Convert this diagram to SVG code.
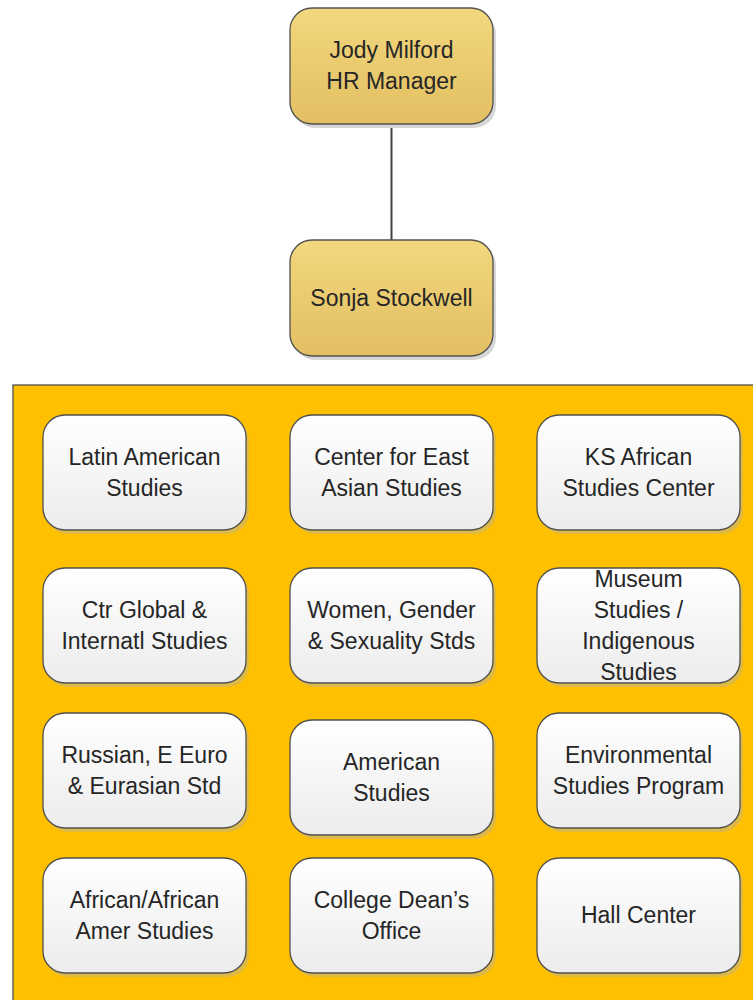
<svg xmlns="http://www.w3.org/2000/svg" width="753" height="1000" viewBox="0 0 753 1000">
<defs>
<linearGradient id="gold" x1="0" y1="0" x2="0" y2="1">
<stop offset="0" stop-color="#F3D77E"/>
<stop offset="1" stop-color="#E2BF62"/>
</linearGradient>
<linearGradient id="white" x1="0" y1="0" x2="0" y2="1">
<stop offset="0" stop-color="#FFFFFF"/>
<stop offset="1" stop-color="#ECECEC"/>
</linearGradient>
</defs>
<style>
.box{stroke:#505050;stroke-width:1.3}
.g{fill:url(#gold)}
.w{fill:url(#white)}
.sh1{fill:#D6D6D6}
.sh2{fill:#DDB948}
text{font-family:"Liberation Sans",Arial,sans-serif;font-size:23px;fill:#262626;text-anchor:middle}
.conn{stroke:#404040;stroke-width:2;fill:none}
</style>
<rect x="13" y="385" width="760" height="640" fill="#FFC000" stroke="#505050" stroke-width="1.3"/>
<g id="connectors">
<line class="conn" x1="391.5" y1="124" x2="391.5" y2="240"/>
</g>
<g id="n-jody">
<rect class="sh1" x="293" y="12" width="203" height="116" rx="22"/>
<rect class="box g" x="290" y="8" width="203" height="116" rx="22"/>
<text x="391.5" y="58">Jody Milford</text>
<text x="391.5" y="89">HR Manager</text>
</g>
<g id="n-sonja">
<rect class="sh1" x="293" y="244" width="203" height="116" rx="22"/>
<rect class="box g" x="290" y="240" width="203" height="116" rx="22"/>
<text x="391.5" y="306">Sonja Stockwell</text>
</g>
<g id="n-latin">
<rect class="sh2" x="46" y="419" width="203" height="115" rx="22"/>
<rect class="box w" x="43" y="415" width="203" height="115" rx="22"/>
<text x="144.5" y="465">Latin American</text>
<text x="144.5" y="496">Studies</text>
</g>
<g id="n-eastasian">
<rect class="sh2" x="293" y="419" width="203" height="115" rx="22"/>
<rect class="box w" x="290" y="415" width="203" height="115" rx="22"/>
<text x="391.5" y="465">Center for East</text>
<text x="391.5" y="496">Asian Studies</text>
</g>
<g id="n-ksafrican">
<rect class="sh2" x="540" y="419" width="203" height="115" rx="22"/>
<rect class="box w" x="537" y="415" width="203" height="115" rx="22"/>
<text x="638.5" y="465">KS African</text>
<text x="638.5" y="496">Studies Center</text>
</g>
<g id="n-ctrglobal">
<rect class="sh2" x="46" y="572" width="203" height="115" rx="22"/>
<rect class="box w" x="43" y="568" width="203" height="115" rx="22"/>
<text x="144.5" y="618">Ctr Global &amp;</text>
<text x="144.5" y="649">Internatl Studies</text>
</g>
<g id="n-women">
<rect class="sh2" x="293" y="572" width="203" height="115" rx="22"/>
<rect class="box w" x="290" y="568" width="203" height="115" rx="22"/>
<text x="391.5" y="618">Women, Gender</text>
<text x="391.5" y="649">&amp; Sexuality Stds</text>
</g>
<g id="n-museum">
<rect class="sh2" x="540" y="572" width="203" height="115" rx="22"/>
<rect class="box w" x="537" y="568" width="203" height="115" rx="22"/>
<text x="638.5" y="587">Museum</text>
<text x="638.5" y="618">Studies /</text>
<text x="638.5" y="649">Indigenous</text>
<text x="638.5" y="680">Studies</text>
</g>
<g id="n-russian">
<rect class="sh2" x="46" y="717" width="203" height="115" rx="22"/>
<rect class="box w" x="43" y="713" width="203" height="115" rx="22"/>
<text x="144.5" y="763">Russian, E Euro</text>
<text x="144.5" y="794">&amp; Eurasian Std</text>
</g>
<g id="n-american">
<rect class="sh2" x="293" y="724" width="203" height="115" rx="22"/>
<rect class="box w" x="290" y="720" width="203" height="115" rx="22"/>
<text x="391.5" y="770">American</text>
<text x="391.5" y="801">Studies</text>
</g>
<g id="n-environmental">
<rect class="sh2" x="540" y="717" width="203" height="115" rx="22"/>
<rect class="box w" x="537" y="713" width="203" height="115" rx="22"/>
<text x="638.5" y="763">Environmental</text>
<text x="638.5" y="794">Studies Program</text>
</g>
<g id="n-africanamer">
<rect class="sh2" x="46" y="862" width="203" height="115" rx="22"/>
<rect class="box w" x="43" y="858" width="203" height="115" rx="22"/>
<text x="144.5" y="908">African/African</text>
<text x="144.5" y="939">Amer Studies</text>
</g>
<g id="n-dean">
<rect class="sh2" x="293" y="862" width="203" height="115" rx="22"/>
<rect class="box w" x="290" y="858" width="203" height="115" rx="22"/>
<text x="391.5" y="908">College Dean’s</text>
<text x="391.5" y="939">Office</text>
</g>
<g id="n-hall">
<rect class="sh2" x="540" y="862" width="203" height="115" rx="22"/>
<rect class="box w" x="537" y="858" width="203" height="115" rx="22"/>
<text x="638.5" y="923">Hall Center</text>
</g>
</svg>
